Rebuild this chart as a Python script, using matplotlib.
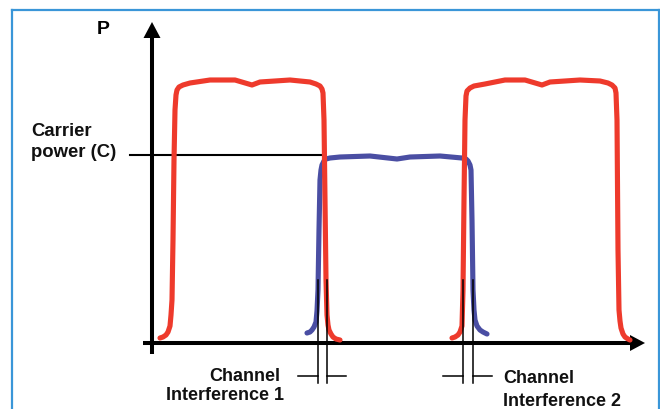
import matplotlib
matplotlib.use("Agg")
import matplotlib.pyplot as plt

# frequency (x) / power (y) of the sketched spectra, origin at the axis crossing
red1_f = [8, 11, 14, 16, 18, 19, 20, 21, 22, 23, 24, 25, 27, 31, 38, 58, 83, 100, 108, 138, 158, 164, 168, 170, 171,
          172, 173, 174, 175, 176, 177, 179, 181, 184, 188]
red1_p = [5, 6, 8, 11, 17, 28, 43, 103, 183, 233, 248, 253, 256, 258, 260, 263, 263, 258, 261, 263, 261, 259, 257, 254, 250,
          223, 143, 63, 28, 18, 13, 9, 6, 4, 3]

blue_f = [155, 158, 160, 162, 164, 165, 166, 167, 168, 169, 170, 172, 174, 178, 188, 218, 245, 258, 288, 310, 314, 316,
          318, 319, 320, 321, 322, 323, 325, 328, 331, 335]
blue_p = [10, 11, 13, 16, 21, 32, 53, 113, 163, 173, 178, 182, 184, 185, 186, 187, 184, 186, 187, 185, 184, 182,
          178, 173, 123, 53, 33, 23, 17, 13, 11, 9]

red2_f = [300, 303, 306, 308, 310, 311, 312, 313, 314, 315, 318, 322, 333, 353, 373, 390, 398, 428, 448, 456, 460, 463,
          464, 465, 466, 467, 468, 469, 471, 473, 476, 478]
red2_p = [5, 6, 8, 11, 17, 53, 143, 223, 247, 252, 255, 257, 259, 263, 263, 258, 261, 263, 262, 260, 258, 255,
          250, 223, 93, 33, 22, 15, 9, 6, 4, 3]

carrier_level = 188
overlap1 = [166, 175]
overlap2 = [311, 321]

RED = "#ee3a2c"
BLUE = "#4a4ea3"

plt.rcParams['font.family'] = ['Liberation Sans', 'DejaVu Sans']

fig = plt.figure(figsize=(6.6, 4.09), dpi=100)
ax = fig.add_axes([0, 0, 1, 1])
ax.set_xlim(-152, 508)
ax.set_ylim(-66, 343)
ax.axis('off')

# light blue frame
frame = dict(color="#3a96d8", lw=1.6, clip_on=False)
ax.plot([-140.5, -140.5], [-80, 333], **frame)
ax.plot([-140.5, 507], [333, 333], **frame)
ax.plot([507, 507], [-80, 333], **frame)

# axes with arrow heads
ax.plot([-9, 480], [0, 0], color='k', lw=2.9, solid_capstyle='butt')
ax.fill([478, 478, 493], [-8, 8, 0], color='k', lw=0)
ax.plot([0, 0], [-11, 307], color='k', lw=2.9, solid_capstyle='butt')
ax.fill([-8.5, 8.5, 0], [305, 305, 321], color='k', lw=0)

# carrier power level
ax.plot([-22, 173], [carrier_level, carrier_level], color='k', lw=1.5)

# spectra
style = dict(lw=3.7, solid_joinstyle='round', solid_capstyle='round')
ax.plot(blue_f, blue_p, color=BLUE, **style)
ax.plot(red1_f, red1_p, color=RED, **style)
ax.plot(red2_f, red2_p, color=RED, **style)

# overlap markers
for a, b in [overlap1, overlap2]:
    ax.plot([a, a], [63, -40], color='k', lw=1.1)
    ax.plot([b, b], [63, -40], color='k', lw=1.1)
    ax.plot([a - 20, a], [-33, -33], color='k', lw=1.1)
    ax.plot([b, b + 19], [-33, -33], color='k', lw=1.1)

txt = dict(fontsize=13, fontweight='bold', color='#111111')
ax.text(-49, 309, "P", ha='center', va='baseline', fontsize=14, fontweight='bold')
ax.text(-121, 207, "Carrier", ha='left', va='baseline', fontsize=13.3, fontweight='bold', color='#111111')
ax.text(-121, 186, "power (C)", ha='left', va='baseline', fontsize=13.3, fontweight='bold', color='#111111')
ax.text(128, -38, "Channel", ha='right', va='baseline', **txt)
ax.text(132, -57, "Interference 1", ha='right', va='baseline', **txt)
ax.text(351, -40, "Channel", ha='left', va='baseline', **txt)
ax.text(351, -63, "Interference 2", ha='left', va='baseline', **txt)

fig.savefig("out.png", dpi=100)
